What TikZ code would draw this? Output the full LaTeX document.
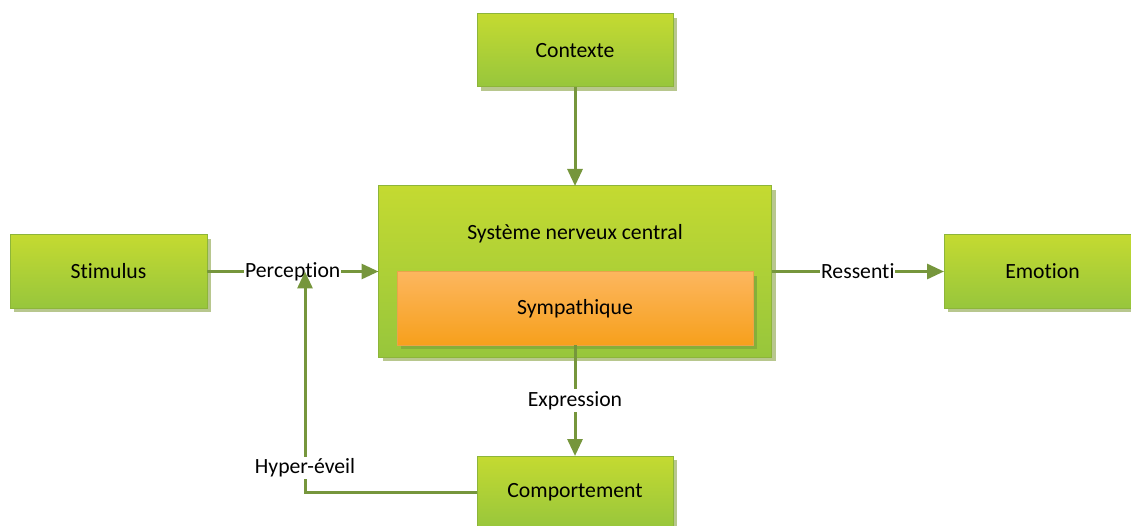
\documentclass[tikz,border=0pt]{standalone}
\usepackage{fontspec}
\setmainfont{Carlito}[Ligatures=NoCommon]
\usetikzlibrary{shadows,arrows.meta}

\definecolor{linegreen}{HTML}{76963C}
\definecolor{limetop}{HTML}{C4DA31}
\definecolor{limebot}{HTML}{97C63C}
\definecolor{limeedge}{HTML}{8DB53A}
\definecolor{limeshadow}{HTML}{B8C78E}
\definecolor{orangetop}{HTML}{FCB65E}
\definecolor{orangebot}{HTML}{F7A01C}
\definecolor{orangeedge}{HTML}{E9A44A}
\definecolor{innershadow}{HTML}{85AF3A}

\tikzset{
  txt/.style={font=\fontsize{21.7}{26}\selectfont, text=black},
  box/.style={txt, draw=limeedge, line width=1pt, top color=limetop, bottom color=limebot,
    inner sep=0pt, outer sep=0pt,
    drop shadow={shadow xshift=4pt, shadow yshift=-4pt, fill=limeshadow, opacity=1}},
  subbox/.style={txt, draw=orangeedge, line width=1pt, top color=orangetop, bottom color=orangebot,
    inner sep=0pt, outer sep=0pt,
    drop shadow={shadow xshift=4pt, shadow yshift=-4pt, fill=innershadow, opacity=1}},
  conn/.style={draw=linegreen, line width=3pt, -{Triangle[length=17pt,width=15pt]}},
  lbl/.style={txt, fill=white, inner xsep=1pt, inner ysep=2pt},
}

\begin{document}
\begin{tikzpicture}[x=1pt,y=-1pt]
  \useasboundingbox (0,0) rectangle (1131,526);
  \clip (0,0) rectangle (1131,526);

  % blocks
  \node[box, minimum width=196pt, minimum height=73pt] (ctx) at (575,50.5) {Contexte};
  \node[box, minimum width=197pt, minimum height=73pt] (stim) at (108.5,271.5) {Stimulus};
  \node[box, minimum width=393pt, minimum height=171pt] (cns) at (575,271.5) {};
  \node[txt] (cnslabel) at (575,233.5) {Système nerveux central};
  \node[subbox, minimum width=356pt, minimum height=73pt] (sym) at (575,308.5) {Sympathique};
  \node[box, minimum width=197pt, minimum height=73pt] (emo) at (1042.5,271.5) {Emotion};
  \node[box, minimum width=196pt, minimum height=73pt] (com) at (575,492.5) {Comportement};

  % connectors
  \draw[conn] (ctx.south) -- (cns.north);
  \draw[conn] (stim.east) -- node[lbl] (perc) {Perception} (cns.west);
  \draw[conn] (cns.east) -- node[lbl] (ress) {Ressenti} (emo.west);
  \draw[conn] (sym.south) -- node[lbl] (expr) {Expression} (com.north);
  \coordinate (pj) at (305,271.5);
  \draw[conn] (com.west) -| node[lbl, pos=0.555] (hyp) {Hyper-éveil} (pj);
\end{tikzpicture}
\end{document}
